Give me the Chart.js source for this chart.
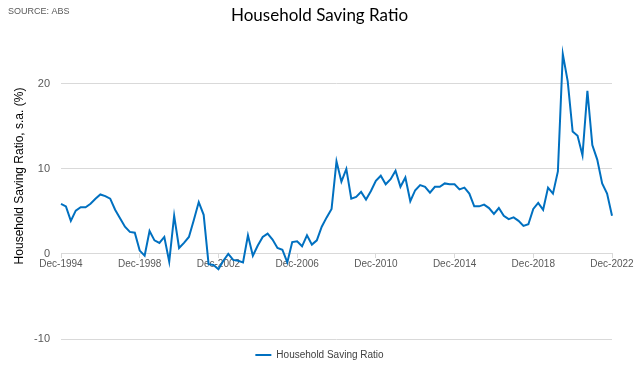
<!DOCTYPE html>
<html>
<head>
<meta charset="utf-8">
<script src="https://cdn.jsdelivr.net/npm/chart.js@4.4.0/dist/chart.umd.min.js"></script>
<style>
  html, body { margin: 0; padding: 0; background: #fff; }
  #wrap { width: 639px; height: 376px; }
</style>
</head>
<body>
<div id="wrap"><canvas id="c" width="639" height="376"></canvas></div>
<script>
// Quarterly categories: Dec-1994 .. Dec-2022
const startYear = 1994;
const quarterMonths = ["Mar", "Jun", "Sep", "Dec"];
const categories = [];
categories.push("Dec-" + startYear);
for (let y = startYear + 1; y <= 2022; y++) {
  for (const m of quarterMonths) categories.push(m + "-" + y);
}

// Household saving ratio, s.a. (%)
const savingRatio = [
  5.9, 5.6, 3.9, 5.1, 5.5, 5.5, 5.9, 6.5, 7.0, 6.8, 6.5, 5.2, 4.2, 3.2, 2.6, 2.5, 0.4, -0.2, 2.7, 1.6, 1.3,
  2.0, -0.9, 4.5, 0.7, 1.3, 2.0, 4.0, 6.1, 4.6, -1.2, -1.3, -1.8, -0.8, 0.0, -0.7, -0.8, -1.0, 2.2, -0.2,
  1.0, 2.0, 2.4, 1.7, 0.7, 0.5, -1.0, 1.4, 1.5, 0.9, 2.2, 1.1, 1.6, 3.2, 4.3, 5.3, 10.9, 8.5, 10.0,
  6.5, 6.7, 7.3, 6.4, 7.4, 8.6, 9.2, 8.2, 8.8, 9.8, 7.9, 9.0, 6.2, 7.5, 8.1, 7.9, 7.2, 7.9, 7.9, 8.3, 8.2,
  8.2, 7.6, 7.8, 7.1, 5.6, 5.6, 5.8, 5.4, 4.7, 5.4, 4.5, 4.1, 4.3, 3.9, 3.3, 3.5, 5.3, 6.0, 5.2, 7.8, 7.1, 9.7,
  23.5, 20.3, 14.4, 13.9, 11.6, 19.2, 12.8, 11.1, 8.3, 7.1, 4.5
];

const yTickValues = [-10, 0, 10, 20];
const xTickLabels = ["Dec-1994", "Dec-1998", "Dec-2002", "Dec-2006", "Dec-2010", "Dec-2014", "Dec-2018", "Dec-2022"];
const seriesName = "Household Saving Ratio";
const chartTitle = "Household Saving Ratio";
const yAxisTitle = "Household Saving Ratio, s.a. (%)";
const sourceNote = "SOURCE: ABS";

const extraText = {
  id: 'extraText',
  afterDraw(chart) {
    const ctx = chart.ctx;
    ctx.save();
    ctx.fillStyle = '#595959';
    ctx.font = '9px "Liberation Sans Narrow", "Liberation Sans", Arial, sans-serif';
    ctx.textBaseline = 'middle';
    ctx.textAlign = 'left';
    ctx.fillText(sourceNote, 8, 12);
    ctx.restore();

    ctx.save();
    ctx.translate(20, 176);
    ctx.rotate(-Math.PI / 2);
    ctx.fillStyle = '#000';
    ctx.font = '12px "Liberation Sans", Arial, sans-serif';
    ctx.textAlign = 'center';
    ctx.textBaseline = 'middle';
    ctx.fillText(yAxisTitle, 0, 0);
    ctx.restore();
  }
};

new Chart(document.getElementById('c'), {
  type: 'line',
  data: {
    labels: categories,
    datasets: [{
      label: seriesName,
      data: savingRatio,
      borderColor: '#0070C0',
      backgroundColor: '#0070C0',
      borderWidth: 2,
      pointRadius: 0,
      pointHoverRadius: 0,
      tension: 0,
      fill: false
    }]
  },
  options: {
    responsive: false,
    animation: false,
    layout: { padding: { left: 0, right: 0, top: 0, bottom: 6 } },
    plugins: {
      title: {
        display: true,
        text: chartTitle,
        color: '#000',
        font: { family: 'Lato, "Open Sans", sans-serif', size: 17, weight: 'normal' },
        padding: { top: 5, bottom: 16 }
      },
      legend: {
        display: true,
        position: 'bottom',
        labels: {
          usePointStyle: true,
          pointStyle: 'line',
          pointStyleWidth: 16,
          color: '#404040',
          font: { family: '"Liberation Sans", Arial, sans-serif', size: 10 },
          padding: 11
        }
      },
      tooltip: { enabled: false }
    },
    scales: {
      x: {
        type: 'category',
        position: { y: 0 },
        afterBuildTicks(scale) {
          scale.ticks = scale.ticks.filter(t => xTickLabels.includes(categories[t.value]));
        },
        ticks: {
          autoSkip: false,
          maxRotation: 0,
          minRotation: 0,
          color: '#595959',
          font: { family: '"Liberation Sans", Arial, sans-serif', size: 10 },
          padding: 0
        },
        grid: { drawOnChartArea: false, drawTicks: true, tickLength: 4, color: '#d9d9d9' },
        border: { display: true, color: '#d9d9d9' }
      },
      y: {
        min: -10,
        max: 25,
        afterBuildTicks(scale) {
          scale.ticks = yTickValues.map(v => ({ value: v }));
        },
        afterFit(scale) { scale.width = 61; },
        ticks: {
          color: '#595959',
          font: { family: '"Liberation Sans", Arial, sans-serif', size: 11 },
          padding: 11
        },
        grid: { color: '#d9d9d9', drawTicks: false },
        border: { display: false }
      },
      yRight: {
        position: 'right',
        display: true,
        min: -10,
        max: 25,
        afterFit(scale) { scale.width = 27; },
        ticks: { display: false },
        grid: { display: false, drawTicks: false },
        border: { display: false }
      }
    }
  },
  plugins: [extraText]
});
</script>
</body>
</html>
